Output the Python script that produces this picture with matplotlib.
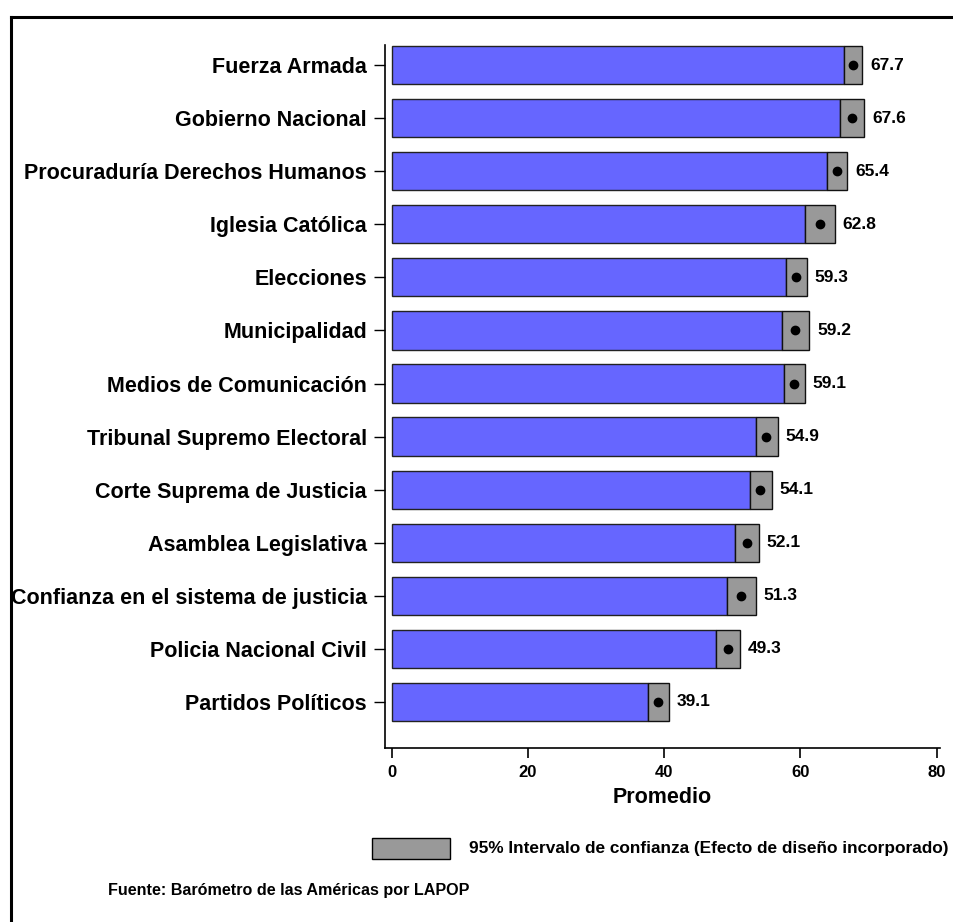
import matplotlib.pyplot as plt
from matplotlib.lines import Line2D
from matplotlib.patches import Rectangle

plt.rcParams['font.family'] = ['Liberation Sans', 'DejaVu Sans']
plt.rcParams['font.weight'] = 'bold'

# data (top to bottom)
categorias = ["Fuerza Armada", "Gobierno Nacional", "Procuraduría Derechos Humanos",
              "Iglesia Católica", "Elecciones", "Municipalidad", "Medios de Comunicación",
              "Tribunal Supremo Electoral", "Corte Suprema de Justicia",
              "Asamblea Legislativa", "Confianza en el sistema de justicia",
              "Policia Nacional Civil", "Partidos Políticos"]
promedio = [67.7, 67.6, 65.4, 62.8, 59.3, 59.2, 59.1, 54.9, 54.1, 52.1, 51.3, 49.3, 39.1]
ic_inf = [66.4, 65.8, 63.9, 60.6, 57.9, 57.3, 57.6, 53.4, 52.6, 50.4, 49.2, 47.6, 37.6]
ic_sup = [69.1, 69.4, 66.9, 65.1, 60.9, 61.3, 60.6, 56.7, 55.8, 53.9, 53.5, 51.1, 40.7]

fig = plt.figure(figsize=(9.54, 9.22), dpi=100)
ax = fig.add_axes([0.4036, 0.1887, 0.5818, 0.7625])

n = len(categorias)
ypos = list(range(n - 1, -1, -1))
h = 0.72

# blue bars up to the lower CI, gray box for the CI
ax.barh(ypos, ic_inf, height=h, color='#6666FF', edgecolor='#222222', linewidth=1, zorder=2)
ancho = [s - i for s, i in zip(ic_sup, ic_inf)]
ax.barh(ypos, ancho, left=ic_inf, height=h, color='#999999', edgecolor='#111111',
        linewidth=1, zorder=2)
ax.plot(promedio, ypos, 'o', color='black', markersize=6, zorder=3)

for y, s, p in zip(ypos, ic_sup, promedio):
    ax.annotate("{:.1f}".format(p), (s, y), xytext=(5.5, 0), textcoords='offset points',
                va='center', ha='left', fontsize=12.5, fontweight='bold')

ax.set_xlim(-1, 80.5)
ax.set_ylim(-0.87, n - 1 + 0.38)
ax.set_xticks([0, 20, 40, 60, 80])
ax.set_yticks(ypos)
ax.set_yticklabels(categorias, fontsize=15.5, fontweight='bold')
ax.tick_params(axis='x', labelsize=12, length=7, width=1.2, pad=5)
ax.tick_params(axis='y', length=8, width=1, pad=5)
for lbl in ax.get_xticklabels():
    lbl.set_fontweight('bold')
ax.spines['top'].set_visible(False)
ax.spines['right'].set_visible(False)
ax.spines['left'].set_linewidth(1.2)
ax.spines['bottom'].set_linewidth(1.2)
ax.set_xlabel('Promedio', fontsize=15.5, fontweight='bold', labelpad=5)

# legend
fig.patches.append(Rectangle((372 / 954, 1 - 859 / 922), 78 / 954, 21 / 922,
                             transform=fig.transFigure, facecolor='#999999',
                             edgecolor='black', linewidth=1))
fig.text(469 / 954, 1 - 848 / 922, '95% Intervalo de confianza (Efecto de diseño incorporado)',
         fontsize=12.4, fontweight='bold', va='center', ha='left')
fig.text(108 / 954, 1 - 890 / 922, 'Fuente: Barómetro de las Américas por LAPOP',
         fontsize=11.6, fontweight='bold', va='center', ha='left')

# outer frame (left and top)
fig.lines.append(Line2D([11 / 954, 11 / 954], [0, 1 - 17 / 922], transform=fig.transFigure,
                        color='black', linewidth=2.2))
fig.lines.append(Line2D([11 / 954, 1], [1 - 17 / 922, 1 - 17 / 922], transform=fig.transFigure,
                        color='black', linewidth=2.2))

plt.savefig('out.png', dpi=100)
